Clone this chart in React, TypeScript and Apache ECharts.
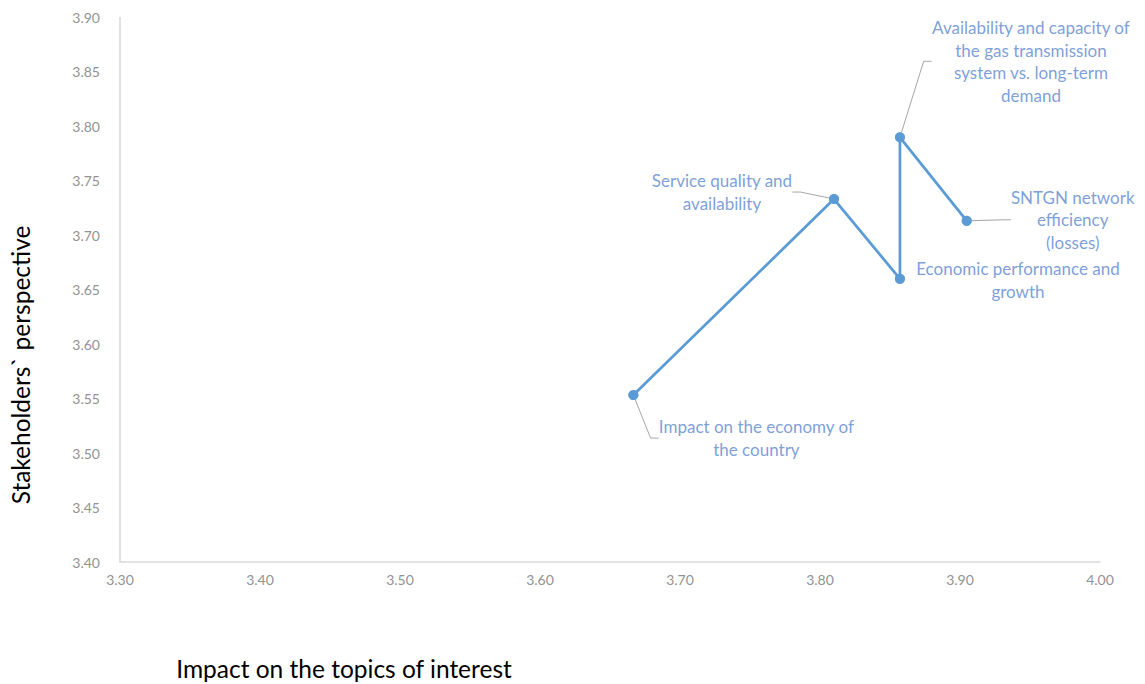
import React, { useEffect, useRef } from "react";
import * as echarts from "echarts";

const topicNames = [
  "Impact on the economy of\nthe country",
  "Service quality and\navailability",
  "Economic performance and\ngrowth",
  "Availability and capacity of\nthe gas transmission\nsystem vs. long-term\ndemand",
  "SNTGN network\nefficiency\n(losses)",
];
const impactValues = [3.6667, 3.81, 3.8571, 3.8571, 3.9048];
const stakeholderValues = [3.5533, 3.7333, 3.66, 3.79, 3.7133];
const showLeader = [true, true, false, true, true];

// label displacement (pixels) from each point
const labelShift = [
  [123, 43],
  [-112, -7],
  [118, 1],
  [131, -76],
  [106, -1],
];

const LINE_COLOR = "#5B9BD5";
const LABEL_COLOR = "#5a86cf";
const AXIS_TEXT = "#929292";
const FONT = "Lato, 'Open Sans', sans-serif";

export default function App() {
  const ref = useRef<HTMLDivElement>(null);
  useEffect(() => {
    document.body.style.margin = "0";
    const chart = echarts.init(ref.current!, null, { renderer: "svg" });
    const points = impactValues.map((x, i) => [x, stakeholderValues[i]]);
    chart.setOption({
      animation: false,
      backgroundColor: "#ffffff",
      grid: { left: 120, right: 45, top: 17.5, bottom: 122 },
      xAxis: {
        type: "value",
        min: 3.3,
        max: 4.0,
        interval: 0.1,
        axisLine: { show: true, lineStyle: { color: "#d9d9d9", width: 1.5 } },
        axisTick: { show: false },
        splitLine: { show: false },
        axisLabel: {
          color: AXIS_TEXT,
          fontFamily: FONT,
          fontSize: 14,
          margin: 10,
          formatter: (v: number) => v.toFixed(2),
        },
      },
      yAxis: {
        type: "value",
        min: 3.4,
        max: 3.9,
        interval: 0.05,
        axisLine: { show: true, lineStyle: { color: "#d9d9d9", width: 1.5 } },
        axisTick: { show: false },
        splitLine: { show: false },
        axisLabel: {
          color: AXIS_TEXT,
          fontFamily: FONT,
          fontSize: 14,
          margin: 20,
          formatter: (v: number) => v.toFixed(2),
        },
      },
      graphic: [
        {
          type: "text",
          x: 20,
          y: 365,
          rotation: Math.PI / 2,
          style: {
            text: "Stakeholders` perspective",
            fill: "#000000",
            font: `24.5px ${FONT}`,
            textAlign: "center",
            textVerticalAlign: "middle",
          },
        },
        {
          type: "text",
          x: 344,
          y: 668,
          style: {
            text: "Impact on the topics of interest",
            fill: "#000000",
            font: `24.5px ${FONT}`,
            textAlign: "center",
            textVerticalAlign: "middle",
          },
        },
      ],
      series: [
        {
          type: "line",
          data: points,
          symbol: "circle",
          symbolSize: 10,
          showSymbol: true,
          lineStyle: { color: LINE_COLOR, width: 2.75 },
          itemStyle: { color: LINE_COLOR },
          z: 2,
        },
        {
          type: "scatter",
          data: points.map((p, i) => ({
            value: p,
            name: topicNames[i],
            labelLine: { show: showLeader[i] },
          })),
          symbol: "circle",
          symbolSize: 10,
          itemStyle: { color: LINE_COLOR },
          z: 3,
          label: {
            show: true,
            position: "inside",
            formatter: (p: any) => p.name,
            color: LABEL_COLOR,
            fontFamily: FONT,
            fontSize: 17,
            lineHeight: 22.5,
            align: "center",
            verticalAlign: "middle",
          },
          labelLine: {
            show: true,
            length2: 8,
            lineStyle: { color: "#a6a6a6", width: 1 },
          },
          labelLayout: (params: any) => ({
            dx: labelShift[params.dataIndex][0],
            dy: labelShift[params.dataIndex][1],
          }),
        },
      ],
    });
    return () => chart.dispose();
  }, []);
  return <div ref={ref} style={{ width: 1145, height: 684 }} />;
}
